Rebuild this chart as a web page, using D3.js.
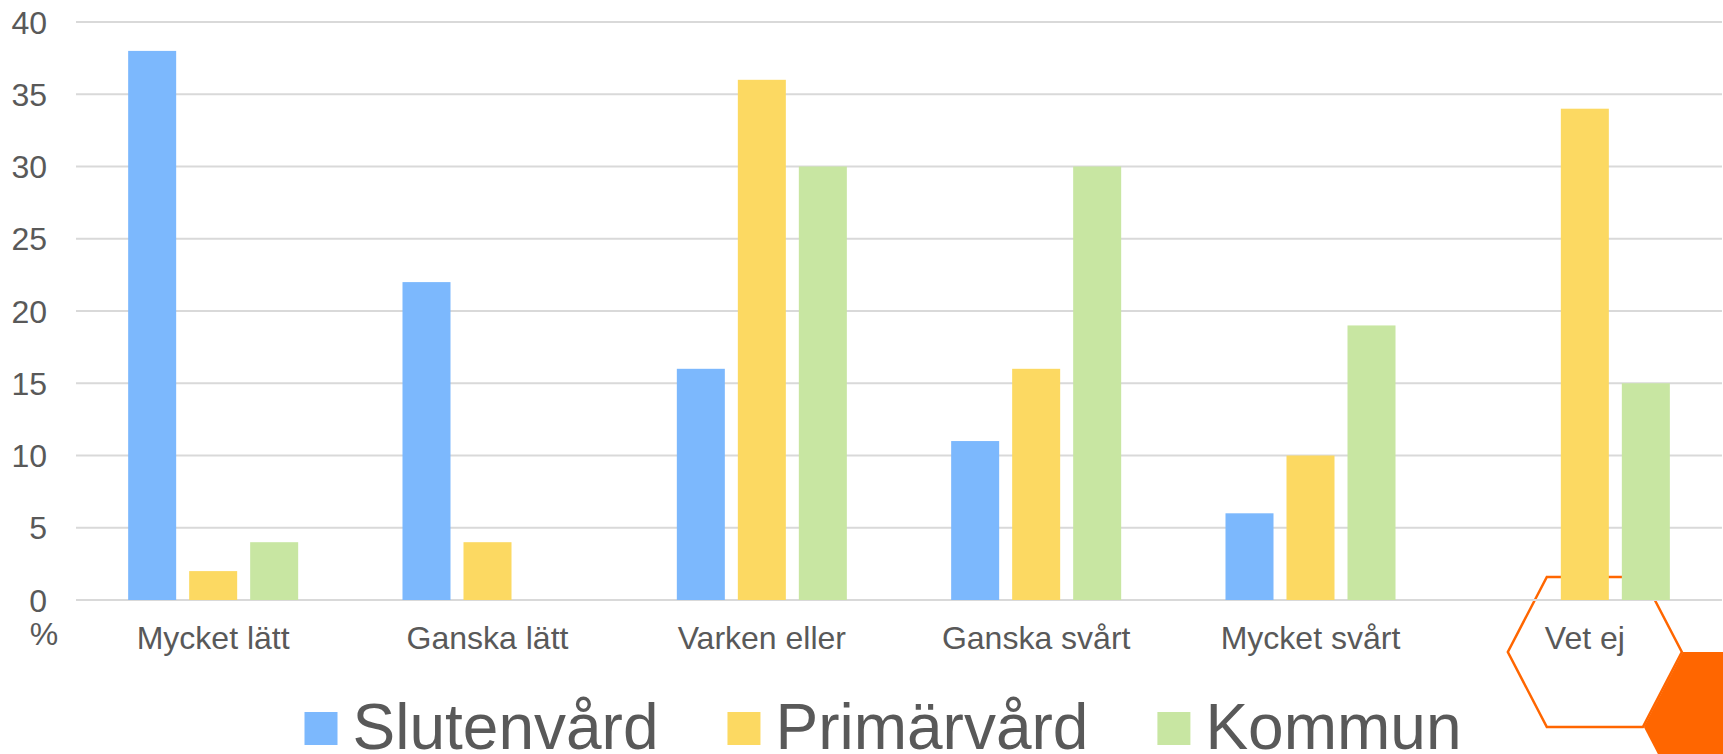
<!DOCTYPE html>
<html lang="sv">
<head>
<meta charset="UTF-8">
<script src="https://d3js.org/d3.v7.min.js"></script>
<title>Slutenvård / Primärvård / Kommun</title>
<style>
  body { margin: 0; background: #fff; }
  text { font-family: "Liberation Sans", Arial, sans-serif; fill: #595959; }
</style>
</head>
<body>
<svg class="chart"></svg>

<script>
// data
const categories = ["Mycket lätt", "Ganska lätt", "Varken eller", "Ganska svårt", "Mycket svårt", "Vet ej"];
const series = ["Slutenvård", "Primärvård", "Kommun"];
const slutenvard = [38, 22, 16, 11, 6, 0];
const primarvard = [2, 4, 36, 16, 10, 34];
const kommun = [4, 0, 30, 30, 19, 15];
const yTicks = [0, 5, 10, 15, 20, 25, 30, 35, 40];

const values = [slutenvard, primarvard, kommun];
const colors = ["#7cb8fd", "#fcd962", "#c8e6a2"];

let chart_width = 1723, chart_height = 754;
let plot_left = 76, plot_right = 1722, plot_top = 22, plot_bottom = 600;

let svg = d3.select('.chart').attr('width', chart_width).attr('height', chart_height);

let x0 = d3.scaleBand().domain(categories).range([plot_left, plot_right]);
let x1 = d3.scaleBand().domain(series).range([0, x0.bandwidth()])
    .paddingInner(0.213).paddingOuter(0.855);
let y = d3.scaleLinear().domain([0, 40]).range([plot_bottom, plot_top]);

// hexagon decoration behind the chart
let hexR = 87, hexH = 75, hexT = 48;
function hexPoints(cx, cy) {
    return [[cx - hexT, cy - hexH], [cx + hexT, cy - hexH], [cx + hexR, cy],
            [cx + hexT, cy + hexH], [cx - hexT, cy + hexH], [cx - hexR, cy]]
        .map(p => p.join(',')).join(' ');
}
let hexCx = x0("Vet ej") + x0.bandwidth() / 2 + 10, hexCy = 652;
svg.append('polygon').attr('points', hexPoints(hexCx, hexCy))
    .attr('fill', 'none').attr('stroke', '#ff6600').attr('stroke-width', 2.5);
svg.append('polygon').attr('points', hexPoints(hexCx + hexR + hexT + 1, hexCy + hexH))
    .attr('fill', '#ff6600');

// gridlines
svg.append('g').selectAll('line').data(yTicks).enter().append('line')
    .attr('x1', plot_left).attr('x2', plot_right)
    .attr('y1', d => y(d)).attr('y2', d => y(d))
    .style('stroke', '#d9d9d9').style('stroke-width', 2);

// y labels
svg.append('g').selectAll('text').data(yTicks).enter().append('text')
    .attr('x', 47).attr('y', d => y(d)).attr('dy', '0.36em')
    .attr('text-anchor', 'end').style('font-size', '32px')
    .text(d => d);
svg.append('text').attr('x', 44).attr('y', 645).attr('text-anchor', 'middle')
    .style('font-size', '32px').text('%');

// bars
let groups = svg.append('g').selectAll('g').data(categories).enter().append('g')
    .attr('transform', d => 'translate(' + x0(d) + ',0)');
groups.selectAll('rect')
    .data((c, i) => series.map((s, j) => ({ s: s, v: values[j][i], j: j })))
    .enter().append('rect')
    .attr('x', d => x1(d.s)).attr('width', x1.bandwidth())
    .attr('y', d => y(d.v)).attr('height', d => y(0) - y(d.v))
    .style('fill', d => colors[d.j]);

// x labels
svg.append('g').selectAll('text').data(categories).enter().append('text')
    .attr('x', d => x0(d) + x0.bandwidth() / 2).attr('y', 649)
    .attr('text-anchor', 'middle').style('font-size', '32px')
    .text(d => d);

// legend
let legendCenter = 883, gap = 69;
let legend = svg.append('g');
let items = legend.selectAll('g').data(series).enter().append('g');
items.append('rect').attr('x', 0).attr('y', 712).attr('width', 33).attr('height', 33)
    .style('fill', (d, i) => colors[i]);
items.append('text').attr('x', 48).attr('y', 749)
    .style('font-size', '64px').text(d => d);
let pos = 0, offsets = [];
items.each(function () {
    offsets.push(pos);
    let w = d3.select(this).select('text').node().getComputedTextLength();
    pos += 48 + w + gap;
});
let total = pos - gap;
items.attr('transform', (d, i) => 'translate(' + (legendCenter - total / 2 + offsets[i]) + ',0)');
</script>
</body>
</html>
